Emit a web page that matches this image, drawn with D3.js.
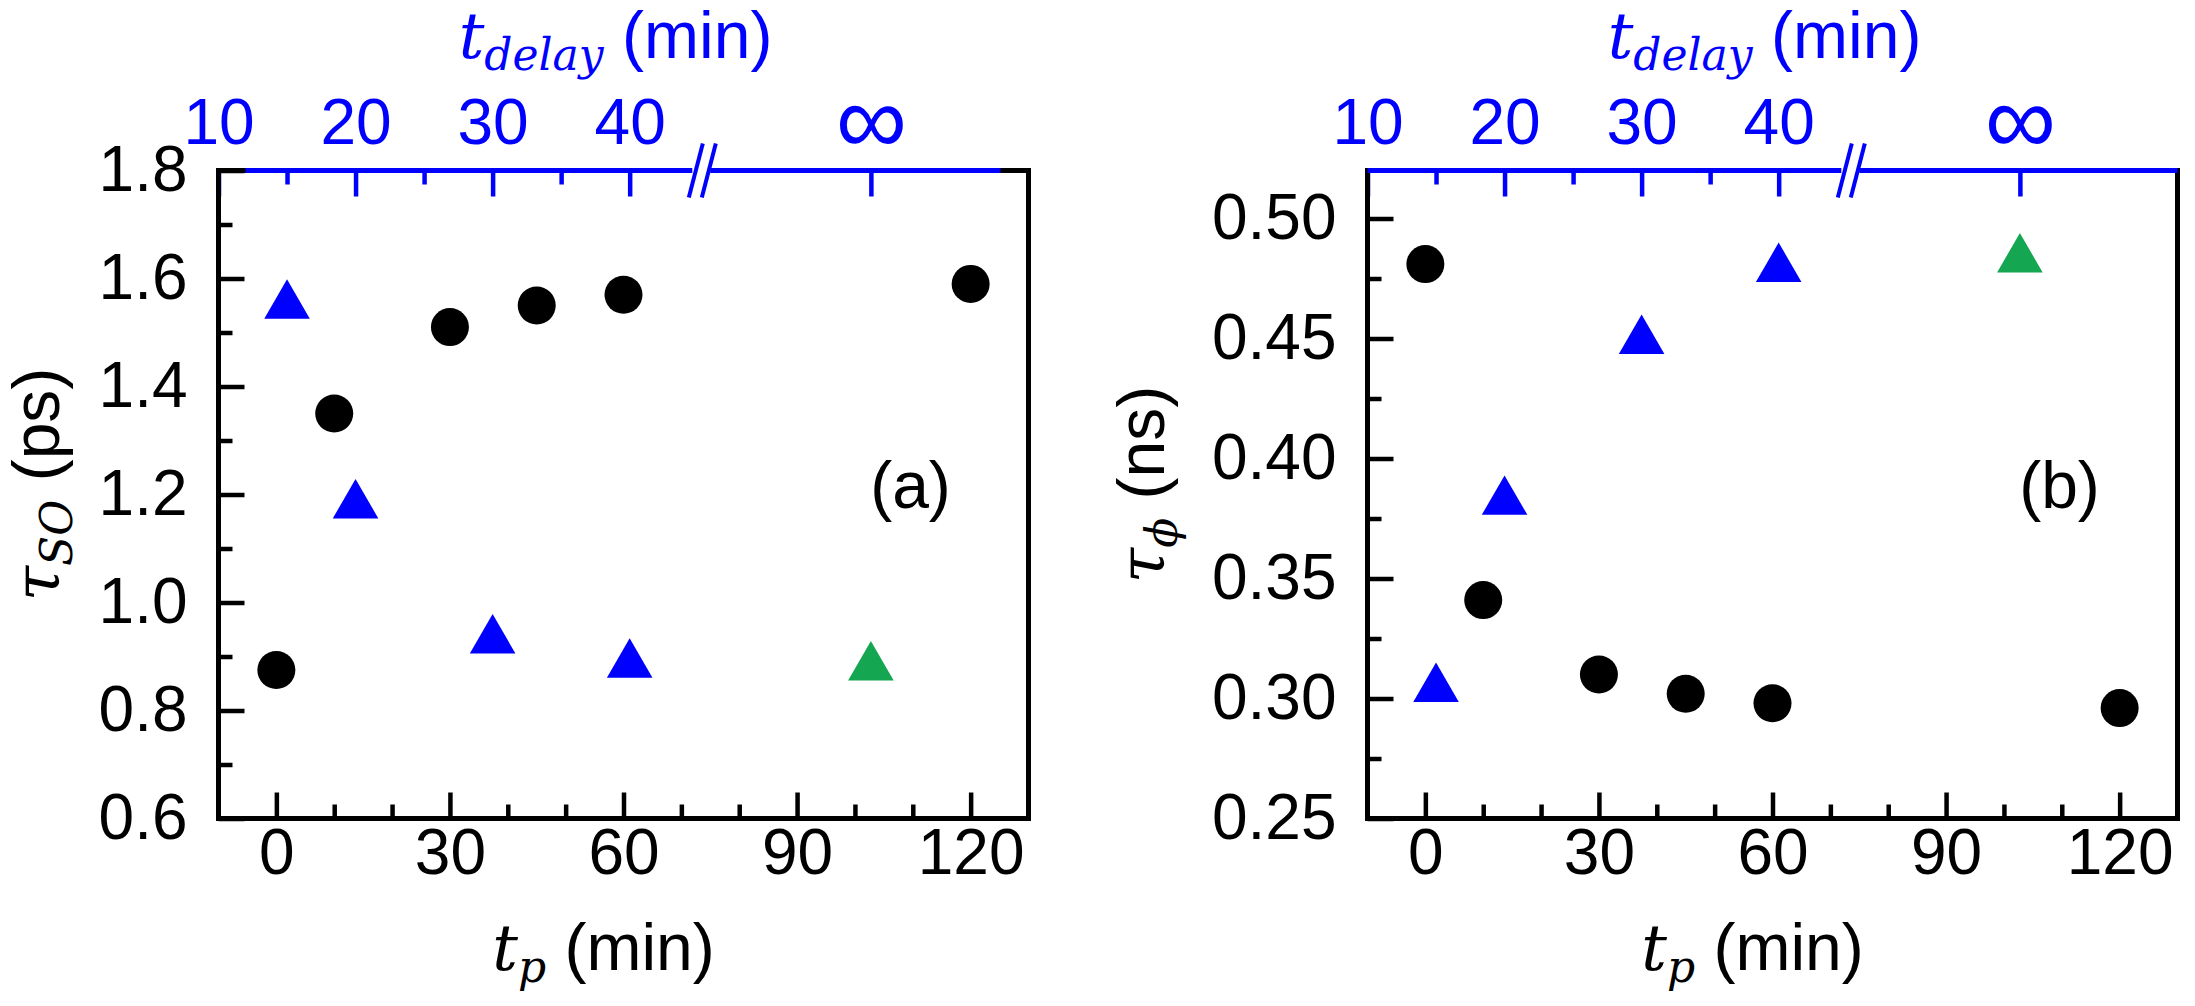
<!DOCTYPE html>
<html>
<head>
<meta charset="utf-8">
<title>tau vs t_p</title>
<script src="https://cdn.jsdelivr.net/npm/d3@7"></script>
<style>
  body { margin: 0; background: #fff; }
  svg { display: block; }
  text { font-family: "Liberation Sans", Arial, sans-serif; }
  .tick line { stroke-width: 4.5; }
  .m { font-family: "DejaVu Serif", serif; font-style: italic; }
</style>
</head>
<body>
<svg id="chart"></svg>
<script>
var W = 2195, H = 1006;

// bottom axis, t_p (min)
var tp = [0, 10, 30, 45, 60, 120];
var tpTicks = [0, 30, 60, 90, 120];
var tpMinor = [10, 20, 40, 50, 70, 80, 100, 110];

// top axis, t_delay (min)
var tDelay = [15, 20, 30, 40];
var delayTicks = [10, 20, 30, 40];
var delayMinor = [15, 25, 35];
var delayBreak = 45.3;
var delayInf = 57.6;   // where the "infinity" tick sits after the break

// panel (a): tau_SO (ps)
var tauSO_tp = [0.875, 1.35, 1.51, 1.55, 1.57, 1.59];
var tauSO_delay = [1.55, 1.18, 0.93, 0.885];
var tauSO_inf = [0.88];
var soTicks = [0.6, 0.8, 1.0, 1.2, 1.4, 1.6, 1.8];
var soMinor = [0.7, 0.9, 1.1, 1.3, 1.5, 1.7];

// panel (b): tau_phi (ns)
var tauPhi_tp = [0.481, 0.341, 0.310, 0.302, 0.298, 0.296];
var tauPhi_delay = [0.304, 0.382, 0.449, 0.479];
var tauPhi_inf = [0.483];
var phiTicks = [0.25, 0.30, 0.35, 0.40, 0.45, 0.50];
var phiMinor = [0.275, 0.325, 0.375, 0.425, 0.475];

var BLUE = "#0000ff", GREEN = "#14a651";
var plotTop = 170.5, pw = 810, ph = 648;
var tickFont = 64, labFont = 66;

var svg = d3.select("#chart").attr("width", W).attr("height", H);

var panels = [
  {left: 218.5, yDomain: [0.6, 1.8], ticks: soTicks, minor: soMinor, fmt: d3.format(".1f"),
   circles: tauSO_tp, tris: tauSO_delay, inf: tauSO_inf, tag: "(a)",
   ylab: {x: -160, sub: "SO", unit: " (ps)"}, blue: [27, pw - 28]},
  {left: 1367.5, yDomain: [0.25, 0.52], ticks: phiTicks, minor: phiMinor, fmt: d3.format(".2f"),
   circles: tauPhi_tp, tris: tauPhi_delay, inf: tauPhi_inf, tag: "(b)",
   ylab: {x: -204, sub: "\u03d5", unit: " (ns)"}, blue: [0, pw]}
];

panels.forEach(drawPanel);

function drawPanel(p) {
  var g = svg.append("g").attr("transform", "translate(" + p.left + "," + plotTop + ")");

  var x = d3.scaleLinear().domain([-10, 130]).range([0, pw]);
  var xt = d3.scaleLinear().domain([10, 69.1]).range([0, pw]);
  var y = d3.scaleLinear().domain(p.yDomain).range([ph, 0]);

  // bottom axis
  g.append("g").attr("transform", "translate(0," + ph + ")")
    .call(d3.axisBottom(x).tickValues(tpTicks).tickSize(-26).tickPadding(10));
  g.append("g").attr("transform", "translate(0," + ph + ")")
    .call(d3.axisBottom(x).tickValues(tpMinor).tickSize(-14).tickFormat(""));

  // left axis
  g.append("g")
    .call(d3.axisLeft(y).tickValues(p.ticks).tickSize(-26).tickPadding(31).tickFormat(p.fmt));
  g.append("g")
    .call(d3.axisLeft(y).tickValues(p.minor).tickSize(-14).tickFormat(""));

  // top axis (t_delay) in blue
  var gt = g.append("g")
    .call(d3.axisTop(xt).tickValues(delayTicks.concat([delayInf])).tickSize(-26).tickPadding(27)
      .tickFormat(function (d) { return d === delayInf ? "\u221e" : d; }));
  var gtm = g.append("g")
    .call(d3.axisTop(xt).tickValues(delayMinor).tickSize(-14).tickFormat(""));
  [gt, gtm].forEach(function (a) {
    a.selectAll("line").attr("stroke", BLUE);
    a.selectAll("text").attr("fill", BLUE);
  });

  g.selectAll(".domain").remove();
  g.selectAll(".tick text").attr("font-size", tickFont).attr("font-family", "Liberation Sans, Arial, sans-serif");
  gt.selectAll("text").filter(function (d) { return d === delayInf; })
    .attr("font-size", 100).attr("dy", "0.1em");

  // frame
  g.append("rect").attr("width", pw).attr("height", ph)
    .attr("fill", "none").attr("stroke", "#000").attr("stroke-width", 5);
  g.append("line").attr("x1", p.blue[0]).attr("x2", p.blue[1])
    .attr("stroke", BLUE).attr("stroke-width", 5);

  // axis break marks
  var bx = xt(delayBreak);
  g.append("rect").attr("x", bx - 10).attr("y", -4).attr("width", 18).attr("height", 8).attr("fill", "#fff");
  [-6.5, 6.5].forEach(function (o) {
    g.append("line")
      .attr("x1", bx + o + 7).attr("y1", -27)
      .attr("x2", bx + o - 7).attr("y2", 27)
      .attr("stroke", BLUE).attr("stroke-width", 4);
  });

  // data
  g.selectAll("circle.pt").data(p.circles).join("circle")
    .attr("class", "pt")
    .attr("cx", function (d, i) { return x(tp[i]); })
    .attr("cy", function (d) { return y(d); })
    .attr("r", 19).attr("fill", "#000");

  var tri = d3.symbol(d3.symbolTriangle, 900);
  g.selectAll("path.tri").data(p.tris).join("path")
    .attr("class", "tri")
    .attr("d", tri)
    .attr("transform", function (d, i) { return "translate(" + xt(tDelay[i]) + "," + y(d) + ")"; })
    .attr("fill", BLUE);
  g.selectAll("path.inf").data(p.inf).join("path")
    .attr("class", "inf")
    .attr("d", tri)
    .attr("transform", function (d) { return "translate(" + xt(delayInf) + "," + y(d) + ")"; })
    .attr("fill", GREEN);

  // panel tag
  g.append("text").attr("x", 692).attr("y", 337).attr("text-anchor", "middle")
    .attr("font-size", labFont).text(p.tag);

  // y title
  var yt = g.append("text")
    .attr("transform", "translate(" + p.ylab.x + "," + (ph / 2 - 10) + ") rotate(-90)")
    .attr("text-anchor", "middle");
  yt.append("tspan").attr("class", "m").attr("font-size", 64).text("\u03c4");
  yt.append("tspan").attr("class", "m").attr("font-size", 44).attr("dy", 13).text(p.ylab.sub);
  yt.append("tspan").attr("font-size", labFont).attr("dy", -13).text(p.ylab.unit);

  // bottom title
  var bt = g.append("text").attr("x", 385).attr("y", 970 - plotTop)
    .attr("text-anchor", "middle");
  bt.append("tspan").attr("class", "m").attr("font-size", 64).text("t");
  bt.append("tspan").attr("class", "m").attr("font-size", 44).attr("dy", 12).text("p");
  bt.append("tspan").attr("font-size", labFont).attr("dy", -12).text(" (min)");

  // top title
  var tt = g.append("text").attr("x", pw / 2 - 8).attr("y", 58 - plotTop)
    .attr("text-anchor", "middle").attr("fill", BLUE);
  tt.append("tspan").attr("class", "m").attr("font-size", 64).text("t");
  tt.append("tspan").attr("class", "m").attr("font-size", 44).attr("dy", 12).text("delay");
  tt.append("tspan").attr("font-size", labFont).attr("dy", -12).text(" (min)");
}
</script>
</body>
</html>
